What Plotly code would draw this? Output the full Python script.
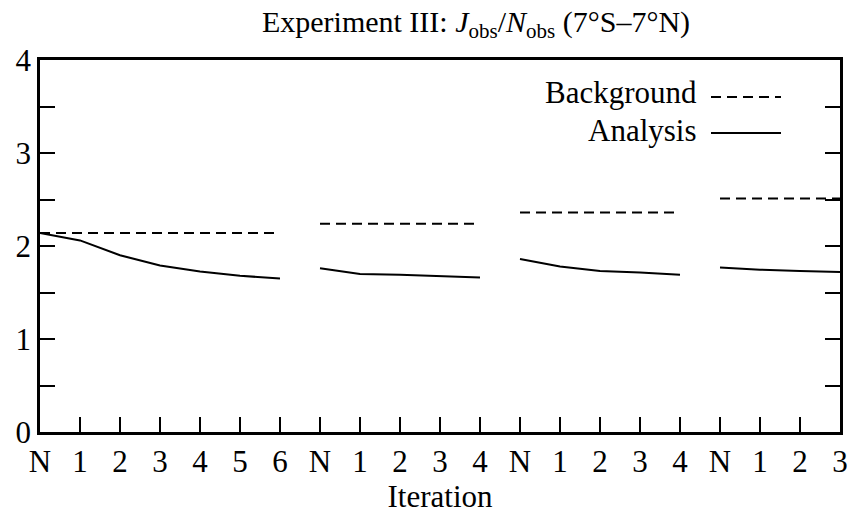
import plotly.graph_objects as go

# Tick labels along the x axis (iteration blocks)
tick_labels = ["N", "1", "2", "3", "4", "5", "6",
               "N", "1", "2", "3", "4",
               "N", "1", "2", "3", "4",
               "N", "1", "2", "3"]

# Analysis values per block
analysis_1 = [2.14, 2.06, 1.90, 1.79, 1.725, 1.68, 1.65]
analysis_2 = [1.76, 1.70, 1.69, 1.675, 1.66]
analysis_3 = [1.86, 1.78, 1.73, 1.715, 1.69]
analysis_4 = [1.77, 1.745, 1.73, 1.72]

# Background values per block
background_1 = [2.14, 2.14, 2.14, 2.14, 2.14, 2.14, 2.14]
background_2 = [2.24, 2.24, 2.24, 2.24, 2.24]
background_3 = [2.36, 2.36, 2.36, 2.36, 2.36]
background_4 = [2.51, 2.51, 2.51, 2.51]

analysis_blocks = [analysis_1, analysis_2, analysis_3, analysis_4]
background_blocks = [background_1, background_2, background_3, background_4]

FONT = "Liberation Serif"
FS = 31
W, H = 855, 516
L, R, T, B = 40, 15, 60, 84

fig = go.Figure()
start = 0
for a, bg in zip(analysis_blocks, background_blocks):
    xs = list(range(start, start + len(a)))
    fig.add_trace(go.Scatter(x=xs, y=bg, mode="lines",
                             line=dict(color="black", width=2, dash="10px,6px"),
                             showlegend=False, hoverinfo="skip"))
    fig.add_trace(go.Scatter(x=xs, y=a, mode="lines",
                             line=dict(color="black", width=2),
                             showlegend=False, hoverinfo="skip"))
    start += len(a)

n = len(tick_labels)
yvals = [i * 0.5 for i in range(9)]
ytext = [str(int(v)) if v == int(v) else "" for v in yvals]

fig.update_xaxes(range=[0, n - 1], tickvals=list(range(n)), ticktext=tick_labels,
                 ticks="inside", ticklen=15, tickwidth=2, tickcolor="black",
                 showline=True, linecolor="black", linewidth=2.5, mirror=True,
                 showgrid=False, zeroline=False, automargin=False,
                 tickfont=dict(family=FONT, size=FS, color="black"),
                 title=dict(text="Iteration", font=dict(family=FONT, size=FS, color="black"),
                            standoff=7))
fig.update_yaxes(range=[0, 4], tickvals=yvals, ticktext=ytext,
                 ticks="inside", ticklen=15, tickwidth=2, tickcolor="black",
                 showline=True, linecolor="black", linewidth=2.5, mirror="ticks",
                 showgrid=False, zeroline=False, automargin=False,
                 tickfont=dict(family=FONT, size=FS, color="black"))

pw = W - L - R
ph = H - T - B
def px_x(p):
    return (p - L) / pw
def px_y(p):
    return (H - B - p) / ph

# Manual legend (text left of sample, as in the reference)
fig.add_annotation(xref="paper", yref="paper", x=px_x(699), y=px_y(92),
                   text="Background", showarrow=False, xanchor="right", yanchor="middle",
                   font=dict(family=FONT, size=FS, color="black"))
fig.add_annotation(xref="paper", yref="paper", x=px_x(699), y=px_y(130),
                   text="Analysis", showarrow=False, xanchor="right", yanchor="middle",
                   font=dict(family=FONT, size=FS, color="black"))
fig.add_shape(type="line", xref="paper", yref="paper",
              x0=px_x(711), x1=px_x(781), y0=px_y(97), y1=px_y(97),
              line=dict(color="black", width=2, dash="10px,6px"))
fig.add_shape(type="line", xref="paper", yref="paper",
              x0=px_x(711), x1=px_x(781), y0=px_y(133), y1=px_y(133),
              line=dict(color="black", width=2))

fig.update_layout(
    width=W, height=H,
    margin=dict(l=L, r=R, t=T, b=B),
    paper_bgcolor="white", plot_bgcolor="white",
    title=dict(text="Experiment III: <i>J</i><sub>obs</sub>/<i>N</i><sub>obs</sub> (7°S–7°N)",
               x=476 / W, xanchor="center", y=1 - 21 / H, yanchor="middle",
               font=dict(family=FONT, size=30, color="black")),
)

fig.write_html("out.html")
